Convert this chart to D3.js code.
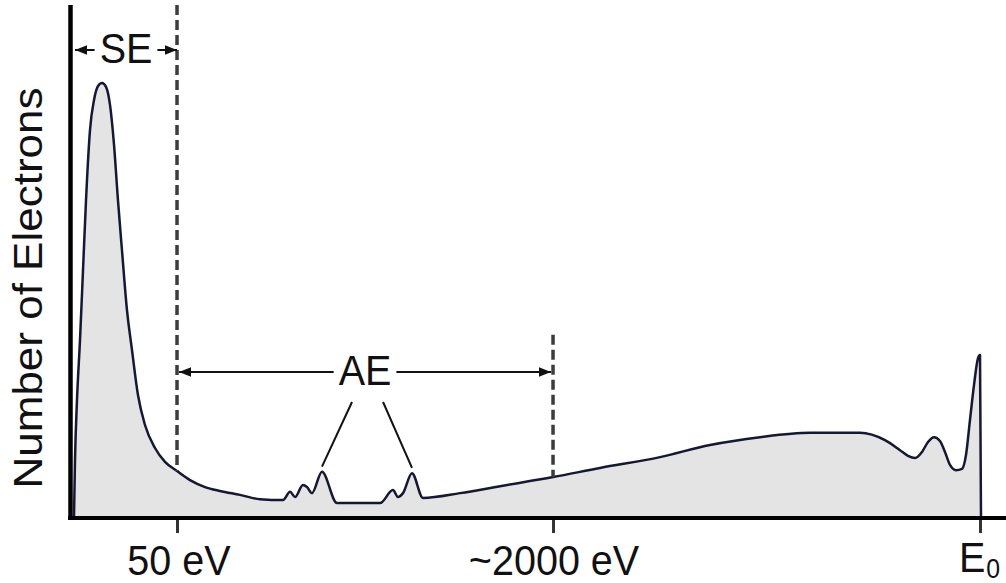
<!DOCTYPE html>
<html>
<head>
<meta charset="utf-8">
<script src="https://cdn.jsdelivr.net/npm/d3@7"></script>
<style>
  body { margin: 0; background: #fff; }
  svg { display: block; }
  text { font-family: "Liberation Sans", Arial, Helvetica, sans-serif; fill: #111; }
</style>
</head>
<body>
<svg id="chart"></svg>
<script>
const W = 1006, H = 583;

// x: position along the energy axis (E0 = 1000), y: electron count (% of SE peak)
const spectrumX = [4.4, 5.5, 7.7, 11.0, 14.3, 17.6, 22.0, 26.4, 30.8, 35.2, 39.6, 44.0, 48.4, 52.7,
  57.1, 62.6, 68.1, 74.7, 82.4, 93.4, 104.4, 117.6, 131.9, 148.4, 164.8, 186.8, 208.8, 234.1,
  241.8, 247.3, 256.0, 260.4, 265.9, 276.9, 293.4, 340.7, 354.9, 360.4, 365.9, 375.8, 387.9,
  428.6, 472.5, 530.8, 582.4, 648.4, 703.3, 758.2, 813.2, 868.1, 895.6, 912.1, 920.9, 928.6,
  936.3, 942.9, 949.5, 956.0, 961.5, 967.0, 973.6, 980.2, 984.6, 989.0, 993.4, 997.8, 1000, 1001.1];
const spectrumY = [0, 13.1, 27.0, 40.8, 56.9, 73.0, 89.2, 96.1, 99.3, 100, 99.1, 94.9, 85.7, 73.0,
  61.5, 47.7, 38.5, 28.1, 21.2, 15.9, 12.7, 10.6, 8.5, 6.9, 6.0, 5.1, 4.1, 3.9,
  5.8, 4.6, 7.4, 6.9, 5.5, 10.4, 3.2, 3.2, 6.2, 4.6, 5.5, 10.1, 4.4,
  5.5, 7.1, 9.2, 11.3, 13.8, 16.6, 18.4, 19.4, 19.4, 17.7, 15.4, 14.1, 13.6,
  15.0, 17.3, 18.4, 17.5, 15.0, 12.0, 10.8, 11.1, 14.3, 22.4, 30.4, 36.6, 37.3, 0];

const tickPos = [117.6, 530.8, 1000];
const tickLabels = ['50 eV', '~2000 eV', 'E'];

// annotation values (same units as the data)
const axisTop = 118;
const dashTops = [118, 42];
const seRange = [5.5, 117.6];
const seLevel = 107.6;
const aeRange = [117.6, 530.8];
const aeLevel = 33.4;
const aePointerFrom = [[309.9, 26.5], [344.0, 26.5]];
const aePeakIdx = [33, 39];

const svg = d3.select('#chart').attr('width', W).attr('height', H);

const x = d3.scaleLinear().domain([0, 1000]).range([70, 980]);
const y = d3.scaleLinear().domain([0, 100]).range([517, 83]);

const pts = spectrumX.map((v, i) => [v, spectrumY[i]]);

// arrowhead marker
svg.append('defs').append('marker')
  .attr('id', 'arrow')
  .attr('viewBox', '0 0 10 8')
  .attr('refX', 10).attr('refY', 4)
  .attr('markerUnits', 'userSpaceOnUse')
  .attr('markerWidth', 12).attr('markerHeight', 10)
  .attr('orient', 'auto-start-reverse')
  .append('path').attr('d', 'M0,0 L10,4 L0,8 Z').attr('fill', '#111');

// filled spectrum
const area = d3.area()
  .x(d => x(d[0])).y0(y(0)).y1(d => y(d[1]))
  .curve(d3.curveMonotoneX);
const line = d3.line()
  .x(d => x(d[0])).y(d => y(d[1]))
  .curve(d3.curveMonotoneX);

svg.append('path').datum(pts).attr('d', area).attr('fill', '#e4e4e4');
svg.append('path').datum(pts).attr('d', line)
  .attr('fill', 'none').attr('stroke', '#151733').attr('stroke-width', 2.5)
  .attr('stroke-linejoin', 'round');

// dashed boundaries, down to the curve
const curveAt = xv => {
  const i = d3.bisector(d => d[0]).left(pts, xv);
  const a = pts[Math.max(0, i - 1)], b = pts[i];
  const t = b[0] === a[0] ? 0 : (xv - a[0]) / (b[0] - a[0]);
  return a[1] + t * (b[1] - a[1]);
};
[tickPos[0], tickPos[1]].forEach((tp, i) => {
  svg.append('line')
    .attr('x1', x(tp)).attr('x2', x(tp))
    .attr('y1', y(dashTops[i])).attr('y2', y(curveAt(tp)))
    .attr('stroke', '#3c3c3c').attr('stroke-width', 3.5)
    .attr('stroke-dasharray', '10,5');
});

// axes
const xAxis = d3.axisBottom(x).tickValues(tickPos).tickSize(16).tickSizeOuter(0).tickFormat('');
svg.append('g')
  .attr('transform', `translate(0,${y(0)})`)
  .call(xAxis)
  .call(g => g.select('.domain').remove())
  .call(g => g.selectAll('.tick line').attr('stroke', '#333').attr('stroke-width', 3));

svg.append('line')
  .attr('x1', 68).attr('x2', W)
  .attr('y1', y(0) + 1).attr('y2', y(0) + 1)
  .attr('stroke', '#000').attr('stroke-width', 4);
svg.append('line')
  .attr('x1', 70.5).attr('x2', 70.5)
  .attr('y1', y(axisTop)).attr('y2', y(0) + 3)
  .attr('stroke', '#000').attr('stroke-width', 4.5);

// tick labels
const hText = (cx, cy, str, size, anchor) => svg.append('text')
  .attr('transform', `translate(${cx},${cy}) scale(0.92,1)`)
  .attr('text-anchor', anchor || 'middle')
  .attr('font-size', size)
  .text(str);

hText(x(tickPos[0]) + 2, 575, tickLabels[0], 43);
hText(x(tickPos[1]) + 1, 575, tickLabels[1], 43);
const e0 = hText(x(tickPos[2]) - 21, 572, tickLabels[2], 43, 'start');
e0.append('tspan').attr('font-size', 27).attr('dx', 1).attr('dy', 6).text('0');

// y label
svg.append('text')
  .attr('transform', 'translate(42,288) scale(0.92,1) rotate(-90)')
  .attr('text-anchor', 'middle')
  .attr('font-size', 44)
  .text('Number of Electrons');

// range arrows with centred labels
function rangeArrow(range, level, label, inset) {
  const x0 = x(range[0]) + inset, x1 = x(range[1]) - inset;
  const yy = y(level);
  const t = hText((x0 + x1) / 2, yy + 13, label, 43);
  const bw = t.node().getBBox().width * 0.92;
  const cx = (x0 + x1) / 2;
  svg.append('line')
    .attr('x1', cx - bw / 2 - 5).attr('x2', x0).attr('y1', yy).attr('y2', yy)
    .attr('stroke', '#111').attr('stroke-width', 2).attr('marker-end', 'url(#arrow)');
  svg.append('line')
    .attr('x1', cx + bw / 2 + 5).attr('x2', x1).attr('y1', yy).attr('y2', yy)
    .attr('stroke', '#111').attr('stroke-width', 2).attr('marker-end', 'url(#arrow)');
}
rangeArrow(seRange, seLevel, 'SE', 0);
rangeArrow(aeRange, aeLevel, 'AE', 2);

// AE pointers to the Auger peaks
aePointerFrom.forEach((p, i) => {
  const pk = pts[aePeakIdx[i]];
  svg.append('line')
    .attr('x1', x(p[0])).attr('y1', y(p[1]))
    .attr('x2', x(pk[0])).attr('y2', y(pk[1] + 1.2))
    .attr('stroke', '#111').attr('stroke-width', 2);
});
</script>
</body>
</html>
